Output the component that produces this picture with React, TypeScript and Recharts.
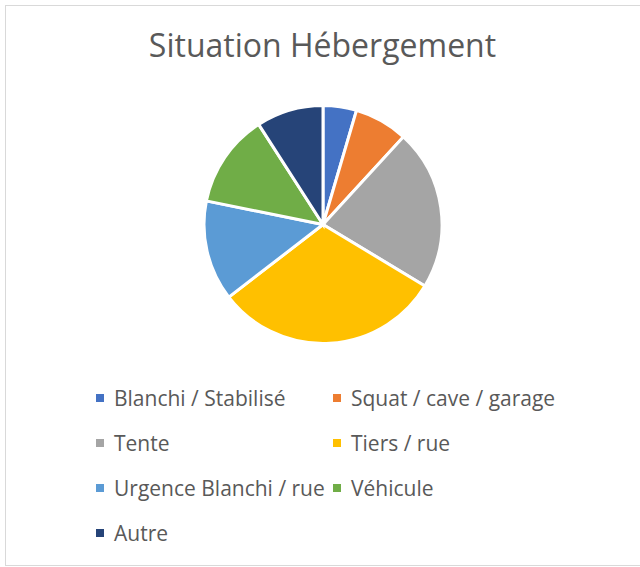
import { PieChart, Pie, Cell, Legend } from 'recharts';

const categories = [
  'Blanchi / Stabilisé',
  'Squat / cave / garage',
  'Tente',
  'Tiers / rue',
  'Urgence Blanchi / rue',
  'Véhicule',
  'Autre',
];
const counts = [5, 8, 24, 34, 15, 14, 10];
const colors = ['#4472C4', '#ED7D31', '#A5A5A5', '#FFC000', '#5B9BD5', '#70AD47', '#264478'];

const data = categories.map((name, i) => ({ name, value: counts[i] }));

const FONT = '"Open Sans", "Noto Sans", sans-serif';

// keep the legend in data order (recharts 3 sorts payload by default)
const renderLegend = () => (
  <div
    style={{
      display: 'grid',
      gridTemplateColumns: '237px 250px',
      fontFamily: FONT,
      fontSize: 21,
      color: '#595959',
    }}
  >
    {categories.map((name, i) => (
      <div key={name} style={{ display: 'flex', alignItems: 'center', height: 45, whiteSpace: 'nowrap' }}>
        <span
          style={{
            display: 'inline-block',
            width: 8,
            height: 8,
            background: colors[i],
            marginRight: 10,
            flexShrink: 0,
          }}
        />
        {name}
      </div>
    ))}
  </div>
);

const App = () => {
  return (
    <div style={{ position: 'fixed', left: 0, top: 0, width: 640, height: 567, background: '#fff' }}>
      <div
        style={{
          position: 'absolute',
          left: 5,
          top: 5,
          width: 640,
          height: 561,
          border: '1px solid #D9D9D9',
          boxSizing: 'border-box',
        }}
      />
      <div
        style={{
          position: 'absolute',
          left: 0,
          width: 645,
          top: 23,
          textAlign: 'center',
          fontFamily: FONT,
          fontSize: 32,
          color: '#595959',
        }}
      >
        Situation Hébergement
      </div>
      <PieChart
        width={640}
        height={567}
        margin={{ top: 0, right: 0, bottom: 0, left: 0 }}
        style={{ position: 'absolute', left: 0, top: 0 }}
      >
        <Pie
          data={data}
          dataKey="value"
          nameKey="name"
          cx={323}
          cy={224.5}
          outerRadius={119}
          startAngle={90}
          endAngle={-270}
          stroke="#FFFFFF"
          strokeWidth={3}
          isAnimationActive={false}
        >
          {data.map((d, i) => (
            <Cell key={d.name} fill={colors[i]} />
          ))}
        </Pie>
        <Legend
          content={renderLegend}
          wrapperStyle={{ position: 'absolute', left: 96, top: 375, width: 490 }}
        />
      </PieChart>
    </div>
  );
};

export default App;
